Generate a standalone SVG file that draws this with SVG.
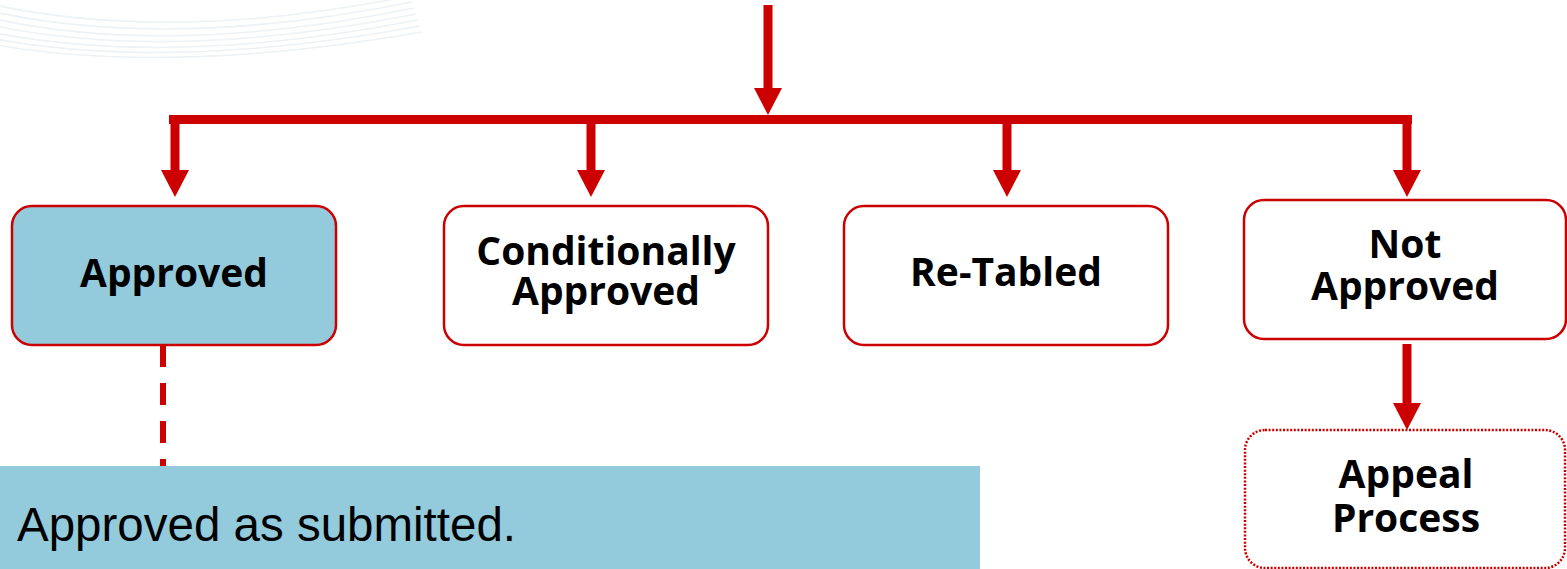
<svg xmlns="http://www.w3.org/2000/svg" width="1567" height="569" viewBox="0 0 1567 569">
  <style>
    .box { stroke: #CC0000; stroke-width: 2.5; }
    .plain { fill: #FFFFFF; }
    .blue { fill: #93CBDC; }
    .dotted { fill: #FFFFFF; stroke: #CC0000; stroke-width: 2.5; stroke-dasharray: 2 1.6; }
    .label { font-family: "Open Sans", "Liberation Sans", sans-serif; font-weight: bold; font-size: 39px; fill: #000000; text-anchor: middle; }
    .note { font-family: "Liberation Sans", Arial, sans-serif; font-size: 47.5px; fill: #000000; }
    .conn { stroke: #CC0000; stroke-width: 9; fill: none; }
    .dash { stroke: #CC0000; stroke-width: 6; fill: none; stroke-dasharray: 22 16; }
    .swoosh { fill: none; stroke: #EDF2F6; stroke-width: 1.6; }
  </style>
  <defs>
    <marker id="head" markerUnits="userSpaceOnUse" viewBox="0 0 27 28" refX="7" refY="14" markerWidth="27" markerHeight="28" orient="auto">
      <path d="M0,0 L27,14 L0,28 Z" fill="#CC0000"/>
    </marker>
  </defs>

  <rect width="1567" height="569" fill="#FFFFFF"/>

  <!-- faint background swoosh, top left -->
  <g id="swoosh">
    <path class="swoosh" d="M-10,4 Q170,44 410,-4"/>
    <path class="swoosh" d="M-10,11 Q170,51 412,2"/>
    <path class="swoosh" d="M-10,18 Q170,58 414,8"/>
    <path class="swoosh" d="M-10,25 Q170,63 416,14"/>
    <path class="swoosh" d="M-10,32 Q170,68 418,20"/>
    <path class="swoosh" d="M-10,38 Q170,72 420,26"/>
    <path class="swoosh" d="M-10,44 Q170,76 422,32"/>
  </g>

  <!-- connectors -->
  <g id="connectors">
    <line class="conn" x1="768" y1="5" x2="768" y2="95" marker-end="url(#head)"/>
    <line class="conn" x1="169" y1="119.5" x2="1412" y2="119.5"/>
    <line class="conn" x1="175" y1="115" x2="175" y2="177" marker-end="url(#head)"/>
    <line class="conn" x1="591" y1="115" x2="591" y2="177" marker-end="url(#head)"/>
    <line class="conn" x1="1007" y1="115" x2="1007" y2="177" marker-end="url(#head)"/>
    <line class="conn" x1="1407" y1="115" x2="1407" y2="177" marker-end="url(#head)"/>
    <line class="conn" x1="1407" y1="344" x2="1407" y2="410" marker-end="url(#head)"/>
    <line class="dash" x1="163" y1="345" x2="163" y2="466"/>
  </g>

  <g id="approved">
    <rect class="box blue" x="12" y="206" width="324" height="139" rx="20"/>
    <text class="label" x="174" y="287">Approved</text>
  </g>

  <g id="conditionally-approved">
    <rect class="box plain" x="444" y="206" width="324" height="139" rx="20"/>
    <text class="label" x="606" y="265">Conditionally<tspan x="606" dy="40">Approved</tspan></text>
  </g>

  <g id="re-tabled">
    <rect class="box plain" x="844" y="206" width="324" height="139" rx="20"/>
    <text class="label" x="1006" y="286">Re-Tabled</text>
  </g>

  <g id="not-approved">
    <rect class="box plain" x="1244" y="200" width="322" height="139" rx="20"/>
    <text class="label" x="1405" y="258">Not<tspan x="1405" dy="42">Approved</tspan></text>
  </g>

  <g id="appeal-process">
    <rect class="dotted" x="1245" y="430" width="320" height="138" rx="20"/>
    <text class="label" x="1406" y="488">Appeal<tspan x="1406" dy="44">Process</tspan></text>
  </g>

  <g id="approved-note">
    <rect class="blue" x="0" y="466" width="980" height="103"/>
    <text class="note" x="17" y="541">Approved as submitted.</text>
  </g>
</svg>
